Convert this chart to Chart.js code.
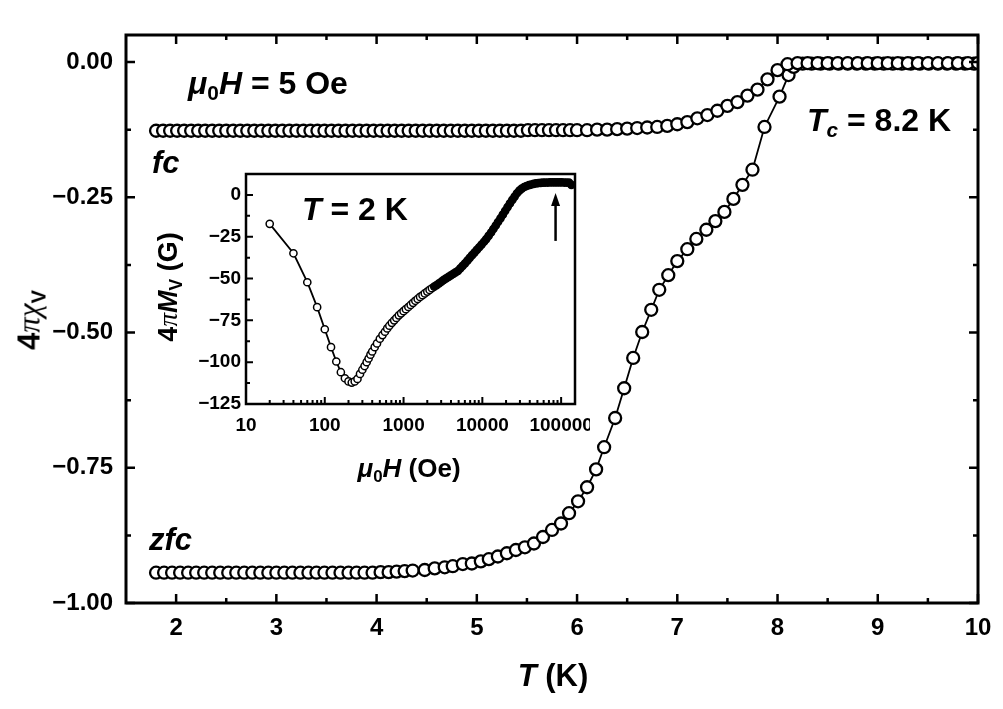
<!DOCTYPE html>
<html>
<head>
<meta charset="utf-8">
<script src="https://cdn.jsdelivr.net/npm/chart.js@4.4.1/dist/chart.umd.min.js"></script>
<style>
html, body { margin: 0; padding: 0; background: #fff; }
#wrap { position: relative; width: 1003px; height: 709px; overflow: hidden;
        font-family: "Liberation Sans", Arial, sans-serif; font-weight: bold; color: #000; }
#main { position: absolute; left: 0; top: 0; }
#inset { position: absolute; left: 150px; top: 160px; }
.t { position: absolute; white-space: nowrap; line-height: 1; }
.c { transform: translate(-50%, -50%); }
.r { transform: translate(-50%, -50%) rotate(-90deg); }
.i { font-style: italic; }
.g { font-family: "Liberation Serif", serif; font-style: italic; font-weight: normal; }
sub { font-size: 0.65em; vertical-align: -0.3em; line-height: 0; }
</style>
</head>
<body>
<div id="wrap">
  <canvas id="main" width="1003" height="709"></canvas>
  <canvas id="inset" width="440" height="290"></canvas>

  <div class="t" style="left:188px;top:67px;font-size:32px"><span class="i">μ</span><sub>0</sub><span class="i">H</span> = 5 Oe</div>
  <div class="t i" style="left:152px;top:147px;font-size:31px">fc</div>
  <div class="t i" style="left:149px;top:524px;font-size:31px">zfc</div>
  <div class="t" style="left:807px;top:104px;font-size:32px"><span class="i">T</span><sub class="i">c</sub> = 8.2 K</div>
  <div class="t" style="left:302px;top:193px;font-size:32px"><span class="i">T</span> = 2 K</div>

  <div class="t c" style="left:553px;top:675px;font-size:31px"><span class="i">T</span> (K)</div>
  <div class="t r" style="left:29px;top:320px;font-size:31px">4<span class="g">πχ</span><sub>V</sub></div>
  <div class="t c" style="left:409px;top:468px;font-size:26px"><span class="i">μ</span><sub>0</sub><span class="i">H</span> (Oe)</div>
  <div class="t r" style="left:168px;top:287px;font-size:27px">4<span class="g">π</span><span class="i">M</span><sub>V</sub> (G)</div>
</div>

<script>
// main panel: susceptibility vs temperature, 5 Oe
const fcT = [
  1.80, 1.87, 1.94, 2.01, 2.08, 2.15, 2.22, 2.29, 2.36, 2.43,
  2.50, 2.57, 2.64, 2.71, 2.78, 2.85, 2.92, 2.99, 3.06, 3.13,
  3.20, 3.27, 3.34, 3.41, 3.48, 3.55, 3.62, 3.69, 3.76, 3.83,
  3.90, 3.97, 4.04, 4.11, 4.18, 4.25, 4.32, 4.39, 4.46, 4.53,
  4.60, 4.67, 4.74, 4.81, 4.88, 4.95, 5.02, 5.09, 5.16, 5.23,
  5.30, 5.37, 5.44, 5.51, 5.58, 5.65, 5.72, 5.79, 5.86, 5.93,
  6.00, 6.10, 6.20, 6.30, 6.40, 6.50, 6.60, 6.70, 6.80, 6.90,
  7.00, 7.10, 7.20, 7.30, 7.40, 7.50, 7.60, 7.70, 7.80, 7.90,
  8.00, 8.10, 8.20, 8.30, 8.40, 8.50, 8.60, 8.70, 8.80, 8.90,
  9.00, 9.10, 9.20, 9.30, 9.40, 9.50, 9.60, 9.70, 9.80, 9.90, 10.00
];
const fcChi = [
  -0.127, -0.127, -0.127, -0.127, -0.127, -0.127, -0.127, -0.127, -0.127, -0.127,
  -0.127, -0.127, -0.127, -0.127, -0.127, -0.127, -0.127, -0.127, -0.127, -0.127,
  -0.127, -0.127, -0.127, -0.127, -0.127, -0.127, -0.127, -0.127, -0.127, -0.127,
  -0.127, -0.127, -0.127, -0.127, -0.127, -0.127, -0.127, -0.127, -0.127, -0.127,
  -0.127, -0.127, -0.127, -0.127, -0.127, -0.127, -0.127, -0.127, -0.127, -0.127,
  -0.127, -0.127, -0.127, -0.126, -0.126, -0.126, -0.126, -0.126, -0.126, -0.126,
  -0.126, -0.126, -0.125, -0.125, -0.124, -0.123, -0.122, -0.121, -0.120, -0.118,
  -0.115, -0.111, -0.104, -0.098, -0.090, -0.081, -0.074, -0.062, -0.051, -0.032,
  -0.015, -0.004, -0.002, -0.002, -0.002, -0.002, -0.002, -0.002, -0.002, -0.002,
  -0.002, -0.002, -0.002, -0.002, -0.002, -0.002, -0.002, -0.002, -0.002, -0.002, -0.002
];
const zfcT = [
  1.80, 1.88, 1.96, 2.04, 2.12, 2.20, 2.28, 2.36, 2.44, 2.52,
  2.60, 2.68, 2.76, 2.84, 2.92, 3.00, 3.08, 3.16, 3.24, 3.32,
  3.40, 3.48, 3.56, 3.64, 3.72, 3.80, 3.88, 3.96, 4.04, 4.12,
  4.20, 4.28, 4.36,
  4.48, 4.58, 4.68, 4.76, 4.86, 4.95, 5.04, 5.12, 5.21, 5.30,
  5.39, 5.48, 5.57, 5.66, 5.75, 5.84, 5.92, 6.01, 6.10, 6.19,
  6.27, 6.38, 6.47, 6.56, 6.65, 6.74, 6.82, 6.91, 7.00, 7.10,
  7.19, 7.29, 7.38, 7.47, 7.56, 7.65, 7.75, 7.87, 8.02, 8.11, 8.16,
  8.25, 8.34, 8.43, 8.52, 8.61, 8.70, 8.79, 8.88, 8.97, 9.06,
  9.15, 9.24, 9.33, 9.42, 9.51, 9.60, 9.69, 9.78, 9.87, 9.96
];
const zfcChi = [
  -0.944, -0.944, -0.944, -0.944, -0.944, -0.944, -0.944, -0.944, -0.944, -0.944,
  -0.944, -0.944, -0.944, -0.944, -0.944, -0.944, -0.944, -0.944, -0.944, -0.944,
  -0.944, -0.944, -0.944, -0.944, -0.944, -0.944, -0.944, -0.944, -0.943, -0.943,
  -0.942, -0.941, -0.940,
  -0.939, -0.936, -0.934, -0.932, -0.928, -0.927, -0.923, -0.919, -0.914, -0.908,
  -0.902, -0.897, -0.890, -0.878, -0.865, -0.853, -0.834, -0.812, -0.786, -0.753,
  -0.712, -0.658, -0.603, -0.547, -0.499, -0.458, -0.421, -0.394, -0.368, -0.346,
  -0.327, -0.310, -0.294, -0.277, -0.253, -0.227, -0.199, -0.120, -0.064, -0.024, -0.009,
  -0.003, -0.003, -0.003, -0.003, -0.003, -0.003, -0.003, -0.003, -0.003, -0.003,
  -0.003, -0.003, -0.003, -0.003, -0.003, -0.003, -0.003, -0.003, -0.003, -0.003
];
const xTickLabels = [2, 3, 4, 5, 6, 7, 8, 9, 10];
const yTickLabels = [-1.00, -0.75, -0.50, -0.25, 0.00];

// inset: magnetisation vs field at 2 K
const insetH = [
  20, 40, 60, 80, 100, 120, 140, 160, 180, 200,
  220, 240, 260, 280, 300, 320, 340, 360, 380, 400,
  430, 460, 500, 540, 580, 620, 660, 710, 760, 810,
  870, 930, 1000, 1070, 1150, 1230, 1320, 1410, 1510, 1620,
  1740, 1860, 2000, 2140, 2290, 2450, 2630, 2820, 3020, 3240,
  3470, 3720, 3980, 4270, 4570, 4900, 5250, 5620, 6030, 6460,
  6920, 7410, 7940, 8510, 9120, 9770, 10500, 11200, 12000, 12900,
  13800, 14800, 15800, 17000, 18200, 19500, 20900, 22400, 24000, 25700,
  27500, 29500, 31600, 33900, 36300, 38900, 41700, 44700, 47900, 51300,
  55000, 58900, 63100, 67600, 72400, 77600, 83200, 89100, 95500, 102000,
  110000, 117000, 126000, 135000
];
const insetM = [
  -17.3, -34.9, -52.2, -67.1, -80.3, -91.0, -99.6, -106.0, -109.6, -111.5,
  -112.2, -111.5, -110.0, -107.0, -104.5, -102.3, -100.0, -97.8, -95.5, -93.6,
  -91.0, -88.8, -86.0, -83.8, -81.8, -79.8, -78.2, -76.5, -75.0, -73.6,
  -72.0, -70.8, -69.5, -68.3, -67.0, -65.8, -64.5, -63.3, -62.2, -61.0,
  -60.0, -58.9, -57.8, -56.8, -55.8, -54.8, -53.9, -52.9, -51.9, -50.8,
  -49.9, -49.0, -48.1, -47.2, -46.3, -45.4, -43.9, -42.4, -40.9, -39.3,
  -37.6, -36.0, -34.5, -32.9, -31.3, -29.7, -28.0, -26.4, -24.5, -22.5,
  -20.4, -18.3, -16.2, -14.0, -11.8, -9.5, -7.3, -5.1, -3.0, -1.0,
  1.0, 2.6, 3.8, 4.7, 5.3, 5.8, 6.2, 6.6, 6.9, 7.1,
  7.2, 7.3, 7.4, 7.4, 7.5, 7.5, 7.5, 7.5, 7.5, 7.5,
  7.4, 7.4, 7.3, 6.0
];
const insetXLabels = [10, 100, 1000, 10000, 100000];
const insetYLabels = [-125, -100, -75, -50, -25, 0];
// above this field the measured points are so close they merge into a band
const denseFrom = 2400;
// the arrow marking the upper critical field
const arrowH = 85000;
const arrowFrom = -27.5;
const arrowTo = 1.2;

const FONT = "'Liberation Sans', Arial, sans-serif";

function near(v, list) {
    return list.some(l => Math.abs(l - v) < 1e-6);
}

function isMultiple(v, step) {
    const q = v / step;
    return Math.abs(q - Math.round(q)) < 1e-6;
}

function pairs(xs, ys) {
    return xs.map((x, i) => ({ x, y: ys[i] }));
}

// Origin-style labels use a real minus sign
function minus(s) {
    return s.replace("-", "\u2212");
}

// inward tick marks and the closed box, drawn from the scales' own ticks
function framePlugin(cfg) {
    return {
        id: "frame",
        afterDatasetsDraw(chart) {
            const { ctx, chartArea: a, scales: { x, y } } = chart;
            ctx.save();
            ctx.strokeStyle = "#000";
            ctx.lineWidth = cfg.tickWidth;
            ctx.beginPath();
            x.ticks.forEach(t => {
                const k = cfg.xKind(t.value);
                if (!k) return;
                const len = k === 2 ? cfg.major : cfg.minor;
                const px = x.getPixelForValue(t.value);
                ctx.moveTo(px, a.bottom);
                ctx.lineTo(px, a.bottom - len);
                if (cfg.mirror) {
                    ctx.moveTo(px, a.top);
                    ctx.lineTo(px, a.top + len);
                }
            });
            y.ticks.forEach(t => {
                const k = cfg.yKind(t.value);
                if (!k) return;
                const len = k === 2 ? cfg.major : cfg.minor;
                const py = y.getPixelForValue(t.value);
                ctx.moveTo(a.left, py);
                ctx.lineTo(a.left + len, py);
                if (cfg.mirror) {
                    ctx.moveTo(a.right, py);
                    ctx.lineTo(a.right - len, py);
                }
            });
            ctx.stroke();
            ctx.lineWidth = cfg.frameWidth;
            ctx.strokeRect(a.left, a.top, a.right - a.left, a.bottom - a.top);
            if (cfg.after) cfg.after(chart);
            ctx.restore();
        },
    };
}

function markerStyle(radius, border, line) {
    return {
        showLine: true,
        borderColor: "#000",
        borderWidth: line,
        pointRadius: radius,
        pointBorderWidth: border,
        pointBackgroundColor: "#fff",
        pointBorderColor: "#000",
        tension: 0,
    };
}

// fixed axis box; drop the extra room Chart.js keeps for edge labels
function fixHeight(h) {
    return s => { s.height = h; s.paddingLeft = 0; s.paddingRight = 0; };
}
function fixWidth(w) {
    return s => { s.width = w; s.paddingTop = 0; s.paddingBottom = 0; };
}

new Chart(document.getElementById("main"), {
    type: "scatter",
    data: {
        datasets: [
            { label: "fc", data: pairs(fcT, fcChi), ...markerStyle(6, 2.3, 1.8) },
            { label: "zfc", data: pairs(zfcT, zfcChi), ...markerStyle(6, 2.3, 1.8) },
        ],
    },
    options: {
        responsive: false,
        animation: false,
        events: [],
        layout: { padding: { left: 0, right: 25, top: 35, bottom: 0 } },
        plugins: { legend: { display: false }, tooltip: { enabled: false } },
        scales: {
            x: {
                type: "linear",
                min: 1.5,
                max: 10,
                afterFit: fixHeight(106),
                grid: { display: false, drawTicks: false },
                border: { display: false },
                ticks: {
                    stepSize: 0.5,
                    autoSkip: false,
                    maxRotation: 0,
                    padding: 11,
                    color: "#000",
                    font: { family: FONT, size: 24, weight: "bold" },
                    callback: v => near(v, xTickLabels) ? String(v) : "",
                },
            },
            y: {
                type: "linear",
                min: -1,
                max: 0.05,
                afterFit: fixWidth(126),
                grid: { display: false, drawTicks: false },
                border: { display: false },
                ticks: {
                    stepSize: 0.125,
                    includeBounds: false,
                    autoSkip: false,
                    padding: 13,
                    color: "#000",
                    font: { family: FONT, size: 24, weight: "bold" },
                    callback: v => near(v, yTickLabels) ? minus(v.toFixed(2)) : "",
                },
            },
        },
    },
    plugins: [framePlugin({
        mirror: true,
        major: 9,
        minor: 5,
        tickWidth: 2.5,
        frameWidth: 3,
        xKind: v => (v < 1.75 ? 0 : near(v, xTickLabels) ? 2 : isMultiple(v, 0.5) ? 1 : 0),
        yKind: v => (near(v, yTickLabels) ? 2 : isMultiple(v, 0.125) ? 1 : 0),
    })],
});

const insetMinor = [];
insetXLabels.forEach(d => {
    for (let m = 2; m <= 9; m++) if (d * m <= 150000) insetMinor.push(d * m);
});

new Chart(document.getElementById("inset"), {
    type: "scatter",
    data: {
        datasets: [{
            label: "T = 2 K",
            data: pairs(insetH, insetM),
            ...markerStyle(3.6, 1.5, 1.8),
            pointBackgroundColor: c => (insetH[c.dataIndex] >= denseFrom ? "#000" : "#fff"),
            segment: {
                borderWidth: c => (insetH[c.p0DataIndex] >= denseFrom ? 7 : 1.8),
            },
        }],
    },
    options: {
        responsive: false,
        animation: false,
        events: [],
        layout: { padding: { left: 0, right: 15, top: 14, bottom: 0 } },
        plugins: { legend: { display: false }, tooltip: { enabled: false } },
        scales: {
            x: {
                type: "logarithmic",
                min: 10,
                max: 150000,
                afterFit: fixHeight(46),
                afterBuildTicks: s => {
                    s.ticks = insetXLabels.concat(insetMinor).sort((a, b) => a - b).map(v => ({ value: v }));
                },
                grid: { display: false, drawTicks: false },
                border: { display: false },
                ticks: {
                    autoSkip: false,
                    maxRotation: 0,
                    padding: 10,
                    color: "#000",
                    font: { family: FONT, size: 19, weight: "bold" },
                    callback: v => near(v, insetXLabels) ? String(v) : "",
                },
            },
            y: {
                type: "linear",
                min: -125,
                max: 12.5,
                afterFit: fixWidth(96),
                grid: { display: false, drawTicks: false },
                border: { display: false },
                ticks: {
                    stepSize: 12.5,
                    autoSkip: false,
                    padding: 5,
                    color: "#000",
                    font: { family: FONT, size: 19, weight: "bold" },
                    callback: v => near(v, insetYLabels) ? minus(String(v)) : "",
                },
            },
        },
    },
    plugins: [framePlugin({
        mirror: false,
        major: 7,
        minor: 4,
        tickWidth: 2,
        frameWidth: 2.5,
        xKind: v => (near(v, insetXLabels) ? 2 : 1),
        yKind: v => (v > 0 ? 0 : near(v, insetYLabels) ? 2 : isMultiple(v, 12.5) ? 1 : 0),
        after: chart => {
            const { ctx, scales: { x, y } } = chart;
            const ax = x.getPixelForValue(arrowH);
            const y0 = y.getPixelForValue(arrowFrom);
            const y1 = y.getPixelForValue(arrowTo);
            ctx.lineWidth = 2.5;
            ctx.beginPath();
            ctx.moveTo(ax, y0);
            ctx.lineTo(ax, y1 + 10);
            ctx.stroke();
            ctx.fillStyle = "#000";
            ctx.beginPath();
            ctx.moveTo(ax, y1);
            ctx.lineTo(ax - 4.5, y1 + 13);
            ctx.lineTo(ax + 4.5, y1 + 13);
            ctx.closePath();
            ctx.fill();
        },
    })],
});
</script>
</body>
</html>
